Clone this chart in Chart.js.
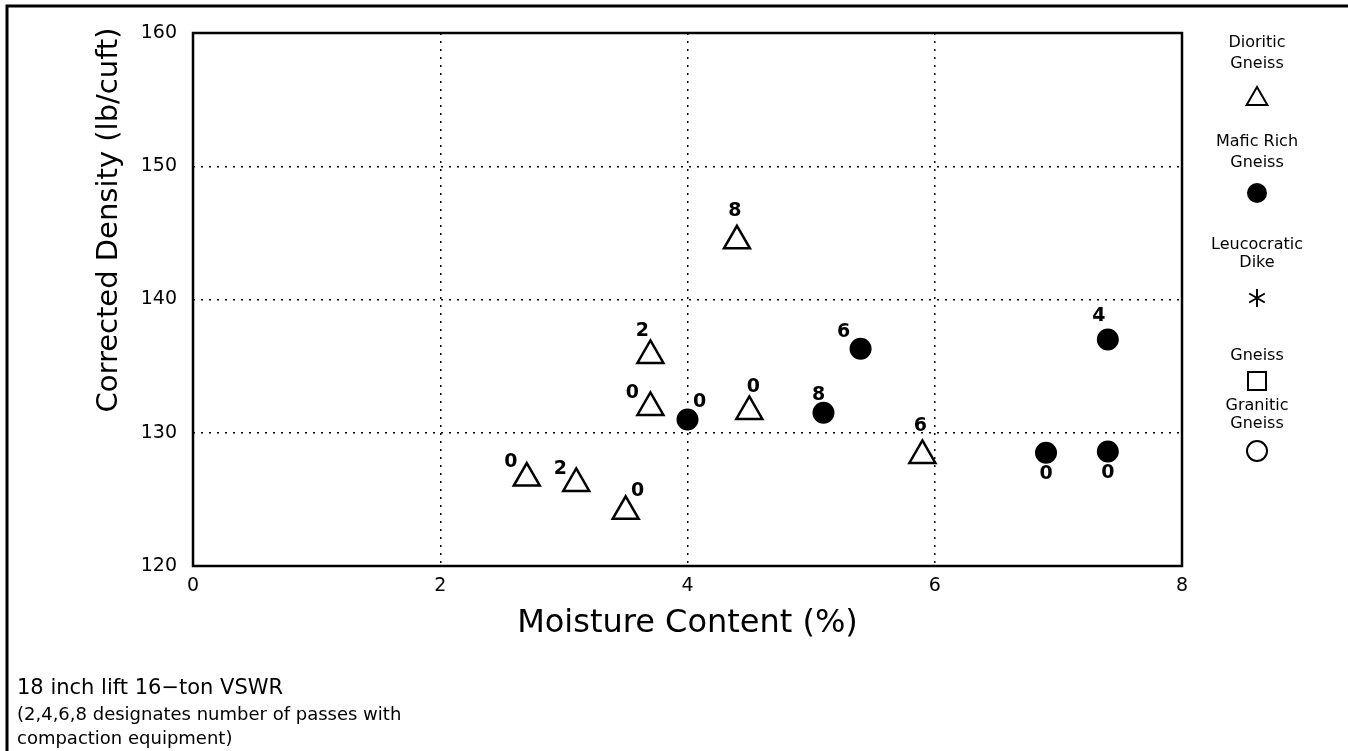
<!DOCTYPE html>
<html>
<head>
<meta charset="utf-8">
<title>Corrected Density vs Moisture Content</title>
<script src="https://cdn.jsdelivr.net/npm/chart.js@4.4.1/dist/chart.umd.min.js"></script>
<style>
  html, body { margin: 0; padding: 0; background: #fff; }
  #wrap { position: relative; width: 1348px; height: 751px; }
</style>
</head>
<body>
<div id="wrap"><canvas id="chart" width="1348" height="751"></canvas></div>
<script>
// values
const dioriticMoisture = [2.7, 3.1, 3.5, 3.7, 3.7, 4.4, 4.5, 5.9];
const dioriticDensity  = [126.6, 126.2, 124.1, 131.9, 135.8, 144.4, 131.6, 128.3];
const dioriticPasses   = ['0', '2', '0', '0', '2', '8', '0', '6'];

const maficMoisture = [4.0, 5.1, 5.4, 6.9, 7.4, 7.4];
const maficDensity  = [131.0, 131.5, 136.3, 128.5, 137.0, 128.6];
const maficPasses   = ['0', '8', '6', '0', '4', '0'];

const xTicks = [0, 2, 4, 6, 8];
const yTicks = [120, 130, 140, 150, 160];

const legendNames = [['Dioritic', 'Gneiss'], ['Mafic Rich', 'Gneiss'], ['Leucocratic', 'Dike'], ['Gneiss'], ['Granitic', 'Gneiss']];
const legendSymbols = ['triangle', 'dot', 'asterisk', 'square', 'ring'];

const noteLines = ['18 inch lift 16\u2212ton VSWR', '(2,4,6,8 designates number of passes with', 'compaction equipment)'];

// where each pass-count label sits relative to its marker (px)
const dioriticLabelOffset = [[-16, -16], [-16, -14], [12, -20], [-18, -14], [-8, -24], [-2, -30], [4, -24], [-2, -29]];
const maficLabelOffset = [[12, -17], [-5, -18], [-17, -17], [0, 21], [-9, -23], [0, 22]];

const FONT = '"DejaVu Sans", "Liberation Sans", sans-serif';

function toPoints(xs, ys) {
    return xs.map((x, i) => ({ x: x, y: ys[i] }));
}

function drawSymbol(ctx, kind, x, y) {
    ctx.save();
    ctx.strokeStyle = '#000';
    ctx.fillStyle = '#000';
    ctx.lineWidth = 2;
    ctx.beginPath();
    if (kind === 'triangle') {
        const r = 12;
        ctx.moveTo(x, y - r);
        ctx.lineTo(x + r * 0.866, y + r / 2);
        ctx.lineTo(x - r * 0.866, y + r / 2);
        ctx.closePath();
        ctx.stroke();
    } else if (kind === 'dot') {
        ctx.arc(x, y, 10, 0, Math.PI * 2);
        ctx.fill();
    } else if (kind === 'asterisk') {
        for (let k = 0; k < 3; k++) {
            const a = Math.PI / 2 + k * Math.PI / 3;
            ctx.moveTo(x - Math.cos(a) * 9, y - Math.sin(a) * 9);
            ctx.lineTo(x + Math.cos(a) * 9, y + Math.sin(a) * 9);
        }
        ctx.stroke();
    } else if (kind === 'square') {
        ctx.rect(x - 9, y - 9, 18, 18);
        ctx.stroke();
    } else if (kind === 'ring') {
        ctx.arc(x, y, 10, 0, Math.PI * 2);
        ctx.stroke();
    }
    ctx.restore();
}

// pass-count numbers next to the markers
const passLabels = {
    id: 'passLabels',
    afterDatasetsDraw(chart) {
        const ctx = chart.ctx;
        ctx.save();
        ctx.fillStyle = '#000';
        ctx.font = 'bold 19px ' + FONT;
        ctx.textAlign = 'center';
        ctx.textBaseline = 'middle';
        chart.data.datasets.forEach((ds, di) => {
            if (!ds.passes) return;
            const meta = chart.getDatasetMeta(di);
            meta.data.forEach((pt, i) => {
                const off = ds.labelOffset[i];
                ctx.fillText(ds.passes[i], pt.x + off[0], pt.y + off[1]);
            });
        });
        ctx.restore();
    }
};

// frame, titles, legend and note
const decorations = {
    id: 'decorations',
    beforeDraw(chart) {
        const ctx = chart.ctx;
        ctx.save();
        ctx.fillStyle = '#fff';
        ctx.fillRect(0, 0, chart.width, chart.height);
        ctx.restore();
    },
    afterDraw(chart) {
        const ctx = chart.ctx;
        const a = chart.chartArea;
        ctx.save();
        ctx.strokeStyle = '#000';

        // plot box
        ctx.lineWidth = 2.5;
        ctx.strokeRect(a.left, a.top, a.right - a.left, a.bottom - a.top);

        // page frame, only top and left show
        ctx.lineWidth = 3;
        ctx.beginPath();
        ctx.moveTo(7, chart.height);
        ctx.lineTo(7, 6);
        ctx.lineTo(chart.width, 6);
        ctx.stroke();

        ctx.fillStyle = '#000';

        // x title
        ctx.font = '32px ' + FONT;
        ctx.textAlign = 'center';
        ctx.textBaseline = 'alphabetic';
        ctx.fillText('Moisture Content (%)', (a.left + a.right) / 2, 632);

        // y title
        ctx.save();
        ctx.translate(117, 220);
        ctx.rotate(-Math.PI / 2);
        ctx.font = '29px ' + FONT;
        ctx.fillText('Corrected Density (lb/cuft)', 0, 0);
        ctx.restore();

        // legend
        const lx = 1257;
        const blocks = [
            { text: [43, 64], sym: 99 },
            { text: [142, 163], sym: 193 },
            { text: [245, 263], sym: 298 },
            { text: [356], sym: 381 },
            { text: [406, 424], sym: 451 }
        ];
        ctx.font = '16px ' + FONT;
        ctx.textAlign = 'center';
        ctx.textBaseline = 'middle';
        blocks.forEach((b, i) => {
            legendNames[i].forEach((t, j) => ctx.fillText(t, lx, b.text[j]));
            drawSymbol(ctx, legendSymbols[i], lx, b.sym);
        });

        // note under the plot
        ctx.textAlign = 'left';
        ctx.textBaseline = 'alphabetic';
        ctx.font = '21px ' + FONT;
        ctx.fillText(noteLines[0], 17, 694);
        ctx.font = '18px ' + FONT;
        ctx.fillText(noteLines[1], 17, 720);
        ctx.fillText(noteLines[2], 17, 744);

        ctx.restore();
    }
};

function edgeGrid(ticksArr) {
    return function (c) {
        const v = c.tick ? c.tick.value : null;
        return (v === ticksArr[0] || v === ticksArr[ticksArr.length - 1]) ? 'rgba(0,0,0,0)' : '#000';
    };
}

const chart = new Chart(document.getElementById('chart'), {
    type: 'scatter',
    data: {
        datasets: [
            {
                label: 'Dioritic Gneiss',
                data: toPoints(dioriticMoisture, dioriticDensity),
                passes: dioriticPasses,
                labelOffset: dioriticLabelOffset,
                pointStyle: 'triangle',
                pointRadius: 15,
                borderWidth: 2.5,
                borderColor: '#000',
                backgroundColor: '#fff'
            },
            {
                label: 'Mafic Rich Gneiss',
                data: toPoints(maficMoisture, maficDensity),
                passes: maficPasses,
                labelOffset: maficLabelOffset,
                pointStyle: 'circle',
                pointRadius: 10,
                borderWidth: 2,
                borderColor: '#000',
                backgroundColor: '#000'
            }
        ]
    },
    options: {
        responsive: false,
        animation: false,
        events: [],
        layout: { padding: { left: 0, top: 33, right: 166, bottom: 0 } },
        plugins: {
            legend: { display: false },
            tooltip: { enabled: false }
        },
        scales: {
            x: {
                type: 'linear',
                min: xTicks[0],
                max: xTicks[xTicks.length - 1],
                afterBuildTicks: s => { s.ticks = xTicks.map(v => ({ value: v })); },
                afterFit: s => { s.height = 185; },
                grid: { color: edgeGrid(xTicks), lineWidth: 1.5, drawTicks: false },
                border: { display: false, dash: [2, 6] },
                ticks: { color: '#000', font: { family: FONT, size: 19 }, padding: 9 }
            },
            y: {
                type: 'linear',
                min: yTicks[0],
                max: yTicks[yTicks.length - 1],
                afterBuildTicks: s => { s.ticks = yTicks.map(v => ({ value: v })); },
                afterFit: s => { s.width = 193; },
                grid: { color: edgeGrid(yTicks), lineWidth: 1.5, drawTicks: false },
                border: { display: false, dash: [2, 6] },
                ticks: { color: '#000', font: { family: FONT, size: 19 }, padding: 16 }
            }
        }
    },
    plugins: [decorations, passLabels]
});
</script>
</body>
</html>
